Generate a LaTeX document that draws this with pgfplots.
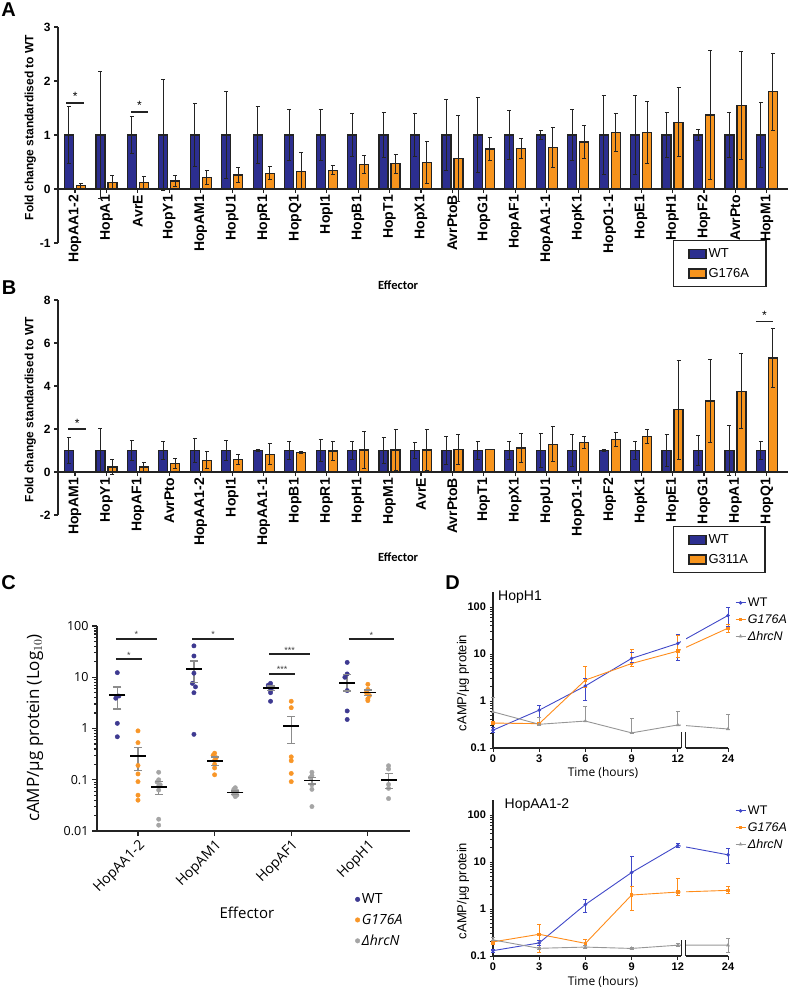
\documentclass[border=0pt]{standalone}
\usepackage{pgfplots}
\pgfplotsset{compat=1.18}
\usepackage{pgfplotstable}
\usepackage{fontspec}
\setmainfont{Liberation Sans}
\newfontfamily\carlito{Carlito}
\newfontfamily\opensans{Open Sans}
\newcommand{\fs}[1]{\fontsize{#1}{#1}\selectfont}
\definecolor{barblue}{RGB}{44,46,143}
\definecolor{barorange}{RGB}{247,148,29}
\definecolor{edge}{RGB}{35,35,35}
\definecolor{dotblue}{RGB}{62,58,145}
\definecolor{dotorange}{RGB}{248,150,40}
\definecolor{dotgray}{RGB}{165,165,165}
\definecolor{lblue}{RGB}{64,72,200}
\definecolor{lorange}{RGB}{255,140,26}
\definecolor{lgray}{RGB}{150,150,150}

\pgfplotstableread{
x wt wte g ge
0 1 0.52 0.06 0.05
1 1 1.17 0.12 0.13
2 1 0.35 0.12 0.11
3 1 1.02 0.15 0.10
4 1 0.58 0.21 0.135
5 1 0.81 0.26 0.135
6 1 0.52 0.29 0.12
7 1 0.47 0.33 0.34
8 1 0.47 0.35 0.08
9 1 0.40 0.45 0.17
10 1 0.42 0.47 0.175
11 1 0.40 0.49 0.39
12 1 0.65 0.57 0.80
13 1 0.70 0.74 0.22
14 1 0.46 0.75 0.19
15 1 0.08 0.77 0.37
16 1 0.47 0.87 0.30
17 1 0.74 1.04 0.35
18 1 0.74 1.05 0.57
19 1 0.41 1.235 0.64
20 1 0.10 1.37 1.20
21 1 0.41 1.55 1.00
22 1 0.60 1.80 0.71
}\dataA

\pgfplotstableread{
x wt wte g ge
0 1 0.60 0.03 0.01
1 1 1.03 0.23 0.34
2 1 0.46 0.23 0.23
3 1 0.42 0.38 0.23
4 1 0.54 0.55 0.40
5 1 0.46 0.60 0.23
6 1 0.05 0.82 0.49
7 1 0.42 0.92 0.05
8 1 0.52 0.98 0.44
9 1 0.42 1.02 0.87
10 1 0.60 1.02 0.97
11 1 0.35 1.02 0.97
12 1 0.63 1.05 0.69
13 1 0.41 1.05 0.02
14 1 0.40 1.12 0.66
15 1 0.78 1.29 0.82
16 1 0.74 1.36 0.27
17 1 0.05 1.52 0.32
18 1 0.44 1.66 0.34
19 1 0.75 2.90 2.30
20 1 0.70 3.30 1.92
21 1 1.17 3.75 1.74
22 1 0.44 5.30 1.37
}\dataB

\tikzset{sigstar/.style={pos=0.5, anchor=base, font=\fs{9}, text=black!75, yshift=1pt},
  dline/.style={line width=0.9pt, mark size=1.3pt}}
\pgfplotsset{
  barpanel/.style={
    scale only axis, width=730pt,
    xmin=-0.54, xmax=22.67,
    axis x line=middle, axis y line=left,
    axis line style={-, line width=1.3pt, edge},
    tick align=outside, major tick length=4pt,
    tick style={line width=1.1pt, edge},
    xtick={0,...,22},
    xticklabel style={rotate=90, anchor=east, font=\bfseries\fs{14}, inner sep=2pt},
    yticklabel style={font=\bfseries\fs{12}},
    ybar=3pt, bar width=9pt,
    error bars/y dir=both, error bars/y explicit,
    error bars/error bar style={line width=1pt, edge},
    error bars/error mark options={rotate=90, mark size=2pt, line width=1pt, edge},
    legend cell align=left,
    legend image code/.code={\draw[##1, line width=1.2pt] (0pt,-4.5pt) rectangle (17pt,4.5pt);},
    xlabel style={font=\carlito\bfseries\fs{12.5}},
    ylabel style={font=\bfseries\fs{12}},
    clip=false,
  },
  dlegend/.style={legend image code/.code={\draw[mark repeat=2,mark phase=2,##1] plot coordinates {(0pt,0pt) (5pt,0pt) (10pt,0pt)};}},
  derr/.style={forget plot, line width=0.8pt, mark=-, mark size=2pt, mark options={line width=0.8pt}},
  sig/.style={forget plot, line width=2pt, edge, mark=none},
}

\begin{document}
\begin{tikzpicture}
\useasboundingbox (0pt,0pt) rectangle (795pt,-990pt);

% ---------------- Panel A ----------------
\begin{axis}[barpanel, at={(58pt,-243pt)}, anchor=south west, height=216pt,
  ymin=-1, ymax=3, ytick={-1,0,1,2,3}, yticklabels={-1,0,1,2,3},
  xticklabels={HopAA1-2,HopA1,AvrE,HopY1,HopAM1,HopU1,HopR1,HopQ1,HopI1,HopB1,HopT1,HopX1,AvrPtoB,HopG1,HopAF1,HopAA1-1,HopK1,HopO1-1,HopE1,HopH1,HopF2,AvrPto,HopM1},
  xlabel={Effector}, xlabel style={at={(axis description cs:0.466,-0.194)}, anchor=center},
  ylabel={Fold change standardised to WT}, ylabel style={at={(axis description cs:-0.038,0.535)}, anchor=center},
  legend style={at={(0.842,0.014)}, anchor=north west, draw=edge, line width=1.5pt, font=\fs{13}, inner xsep=15pt, inner ysep=6pt, row sep=5pt},
]
\addplot[fill=barblue, draw=edge, line width=1.2pt] table[x=x, y=wt, y error=wte] {\dataA};
\addplot[fill=barorange, draw=edge, line width=1.2pt] table[x=x, y=g, y error=ge] {\dataA};
\legend{WT, G176A}
\draw[line width=1.8pt, edge] (axis cs:-0.27,1.6) -- (axis cs:0.29,1.6);
\node[font=\fs{12}, anchor=base] at (axis cs:0.01,1.63) {*};
\draw[line width=1.8pt, edge] (axis cs:1.78,1.43) -- (axis cs:2.32,1.43);
\node[font=\fs{12}, anchor=base] at (axis cs:2.05,1.47) {*};
\end{axis}

% ---------------- Panel B ----------------
\begin{axis}[barpanel, at={(58pt,-515pt)}, anchor=south west, height=215pt,
  ymin=-2, ymax=8, ytick={-2,0,2,4,6,8}, yticklabels={-2,0,2,4,6,8},
  xticklabels={HopAM1,HopY1,HopAF1,AvrPto,HopAA1-2,HopI1,HopAA1-1,HopB1,HopR1,HopH1,HopM1,AvrE,AvrPtoB,HopT1,HopX1,HopU1,HopO1-1,HopF2,HopK1,HopE1,HopG1,HopA1,HopQ1},
  xlabel={Effector}, xlabel style={at={(axis description cs:0.466,-0.195)}, anchor=center},
  ylabel={Fold change standardised to WT}, ylabel style={at={(axis description cs:-0.038,0.49)}, anchor=center},
  legend style={at={(0.842,-0.051)}, anchor=north west, draw=edge, line width=1.5pt, font=\fs{13}, inner xsep=15pt, inner ysep=6pt, row sep=5pt},
]
\addplot[fill=barblue, draw=edge, line width=1.2pt] table[x=x, y=wt, y error=wte] {\dataB};
\addplot[fill=barorange, draw=edge, line width=1.2pt] table[x=x, y=g, y error=ge] {\dataB};
\legend{WT, G311A}
\draw[line width=1.8pt, edge] (axis cs:-0.22,2.0) -- (axis cs:0.36,2.0);
\node[font=\fs{12}, anchor=base] at (axis cs:0.07,2.05) {*};
\draw[line width=1.8pt, edge] (axis cs:21.65,7.0) -- (axis cs:22.19,7.0);
\node[font=\fs{12}, anchor=base] at (axis cs:21.92,7.1) {*};
\end{axis}

% ---------------- Panel C ----------------
\begin{axis}[at={(97pt,-831pt)}, anchor=south west, scale only axis, width=313pt, height=205pt,
  xmin=-0.535, xmax=3.55, ymode=log, ymin=0.01, ymax=100,
  axis lines=left, axis line style={-, line width=1.3pt, edge},
  tick align=outside, major tick length=5pt, tick style={line width=1.2pt, edge},
  minor ytick={},
  unbounded coords=jump,
  xtick={0,1,2,3}, xticklabels={HopAA1-2,HopAM1,HopAF1,HopH1},
  xticklabel style={rotate=45, anchor=north east, font=\opensans\fs{14}, inner sep=2pt},
  ytick={0.01,0.1,1,10,100}, yticklabels={0.01,0.1,1,10,100},
  yticklabel style={font=\opensans\fs{12.5}},
  xlabel={Effector}, xlabel style={font=\opensans\fs{15}, at={(axis description cs:0.479,-0.40)}, anchor=center},
  ylabel={cAMP/µg protein (Log$_{10}$)}, ylabel style={font=\opensans\fs{17}, at={(axis description cs:-0.198,0.502)}, anchor=center},
  legend style={draw=none, fill=none, at={(0.815,-0.285)}, anchor=north west, font=\opensans\fs{14}, row sep=5pt},
  legend cell align=left,
  clip=false,
]
\addlegendimage{only marks, mark=*, mark size=2.3pt, dotblue}
\addlegendentry{WT}
\addlegendimage{only marks, mark=*, mark size=2.3pt, dotorange}
\addlegendentry{\itshape G176A}
\addlegendimage{only marks, mark=*, mark size=2.3pt, dotgray}
\addlegendentry{\itshape ΔhrcN}
% WT
\addplot[only marks, forget plot, mark=*, mark size=2.2pt, dotblue] coordinates {
(-0.27,12.3) (-0.25,4.3) (-0.29,3.9) (-0.27,1.26) (-0.27,0.69)
(0.73,41) (0.73,26) (0.73,12) (0.71,7.6) (0.75,6.5) (0.73,5.0) (0.73,0.77)
(1.73,7.6) (1.70,7.0) (1.76,6.4) (1.73,5.6) (1.73,5.0) (1.73,3.4)
(2.73,19.5) (2.73,11.6) (2.70,10) (2.73,5.5) (2.73,2.2) (2.73,1.5)
};
% G176A
\addplot[only marks, forget plot, mark=*, mark size=2.2pt, dotorange] coordinates {
(0,0.9) (0,0.53) (0,0.19) (0,0.13) (0,0.092) (0,0.05) (0,0.04)
(1,0.33) (0.98,0.3) (1.02,0.27) (1,0.24) (1,0.2) (1,0.17) (1,0.125)
(2,3.4) (2,2.55) (2,0.28) (2,0.235) (2,0.133) (2,0.092)
(3,7.3) (3,5.8) (2.98,5.0) (3.02,4.4) (3,3.8) (3,3.5)
};
% hrcN
\addplot[only marks, forget plot, mark=*, mark size=2.2pt, dotgray] coordinates {
(0.27,0.14) (0.27,0.1) (0.25,0.09) (0.29,0.08) (0.27,0.075) (0.27,0.063) (0.27,0.017) (0.27,0.013)
(1.27,0.07) (1.25,0.065) (1.29,0.06) (1.27,0.057) (1.25,0.052) (1.29,0.05) (1.27,0.047)
(2.27,0.14) (2.27,0.12) (2.25,0.11) (2.27,0.08) (2.27,0.065) (2.27,0.03)
(3.27,0.188) (3.27,0.162) (3.27,0.081) (3.27,0.068) (3.27,0.043)
};
% SEM bars (lower, upper)
\addplot[forget plot, black!45, line width=1.4pt, mark=-, mark size=4pt, mark options={line width=1.4pt}] coordinates {
(-0.27,2.4) (-0.27,6.5) (-0.27,nan)
(0,0.15) (0,0.43) (0,nan)
(0.27,0.052) (0.27,0.092) (0.27,nan)
(0.73,7.9) (0.73,20.8) (0.73,nan)
(1,0.19) (1,0.28) (1,nan)
(1.27,0.052) (1.27,0.06) (1.27,nan)
(1.73,5.5) (1.73,6.7) (1.73,nan)
(2,0.51) (2,1.7) (2,nan)
(2.27,0.082) (2.27,0.112) (2.27,nan)
(2.73,5.4) (2.73,11.3) (2.73,nan)
(3,4.4) (3,5.6) (3,nan)
(3.27,0.068) (3.27,0.133)
};
% means
\addplot[only marks, forget plot, mark=-, mark size=8pt, mark options={line width=1.6pt, black}] coordinates {
(-0.27,4.5) (0,0.29) (0.27,0.072)
(0.73,14.3) (1,0.235) (1.27,0.056)
(1.73,6.1) (2,1.12) (2.27,0.097)
(2.73,7.8) (3,5.0) (3.27,0.1)
};
% significance
\addplot[sig] coordinates {(-0.29,57) (0.25,57)} node[sigstar] {*};
\addplot[sig] coordinates {(-0.29,22.4) (0.05,22.4)} node[sigstar] {*};
\addplot[sig] coordinates {(0.71,57) (1.25,57)} node[sigstar] {*};
\addplot[sig] coordinates {(1.71,28.4) (2.25,28.4)} node[sigstar] {***};
\addplot[sig] coordinates {(1.71,11.6) (2.05,11.6)} node[sigstar] {***};
\addplot[sig] coordinates {(2.75,55) (3.34,55)} node[sigstar] {*};
\end{axis}

% ---------------- Panel D top ----------------
\begin{axis}[at={(493pt,-748pt)}, anchor=south west,
  scale only axis, width=235pt, height=156pt,
  xmin=0, xmax=15.26, ymode=log, ymin=0.1, ymax=210,
  axis lines=left, axis line style={-, line width=1.2pt, edge},
  xtick={0,3,6,9,12,15.26}, xticklabels={0,3,6,9,12,24},
  ytick={0.1,1,10,100}, yticklabels={0.1,1,10,100},
  minor ytick={},
  tick align=outside, major tick length=3.5pt, tick style={line width=1pt, edge},
  ticklabel style={font=\bfseries\fs{11}},
  clip=false, unbounded coords=jump,
  dlegend,
  legend style={draw=none, fill=none, at={(1.025,0.99)}, anchor=north west, font=\fs{12.5}, row sep=2.5pt, inner xsep=1pt},
  legend cell align=left,
  xlabel={Time (hours)}, xlabel style={font=\opensans\fs{12}, at={(axis description cs:0.468,-0.16)}, anchor=center},
  ylabel={cAMP/µg protein}, ylabel style={font=\fs{13}, at={(axis description cs:-0.128,0.417)}, anchor=center},
]
\addplot[lblue, mark=*, dline] coordinates {(0,0.24) (3,0.64) (6,2.1) (9,8.1) (12,16.9) (15.26,66.5)};
\addplot[lorange, mark=square*, dline] coordinates {(0,0.34) (3,0.33) (6,2.8) (9,6.3) (12,11.6) (15.26,35.7)};
\addplot[lgray, mark=triangle*, dline] coordinates {(0,0.59) (3,0.32) (6,0.375) (9,0.21) (12,0.31) (15.26,0.254)};
\legend{WT, \textit{G176A}, \textit{ΔhrcN}}
\addplot[lblue, derr] coordinates {(0,0.22) (0,0.27) (0,nan) (3,0.45) (3,0.8) (3,nan) (6,1.05) (6,3.0) (6,nan) (9,6.5) (9,11.1) (9,nan) (12,7.4) (12,26.7) (12,nan) (15.26,39.5) (15.26,97.5)};
\addplot[lorange, derr] coordinates {(0,0.32) (0,0.36) (0,nan) (3,0.31) (3,0.35) (3,nan) (6,2.0) (6,5.6) (6,nan) (9,5.5) (9,12.3) (9,nan) (12,8.6) (12,25.4) (12,nan) (15.26,28.7) (15.26,42.7)};
\addplot[lgray, derr] coordinates {(0,0.58) (0,1.19) (0,nan) (3,0.31) (3,0.44) (3,nan) (6,0.365) (6,0.755) (6,nan) (9,0.2) (9,0.43) (9,nan) (12,0.3) (12,0.6) (12,nan) (15.26,0.245) (15.26,0.524)};
\fill[white] ({axis cs:12.22,1}|-{rel axis cs:0,-0.012}) rectangle ({axis cs:12.5,1}|-{rel axis cs:0,1});
\draw[line width=1pt, edge] ({axis cs:12.22,1}|-{rel axis cs:0,0}) -- ++(0,-4pt);
\draw[line width=1pt, edge] ({axis cs:12.5,1}|-{rel axis cs:0,0}) -- ++(0,-4pt);
\node[font=\fs{14}, anchor=center] at (axis description cs:0.115,0.968) {HopH1};
\end{axis}

% ---------------- Panel D bottom ----------------
\begin{axis}[at={(493pt,-956pt)}, anchor=south west,
  scale only axis, width=235pt, height=156pt,
  xmin=0, xmax=15.26, ymode=log, ymin=0.1, ymax=210,
  axis lines=left, axis line style={-, line width=1.2pt, edge},
  xtick={0,3,6,9,12,15.26}, xticklabels={0,3,6,9,12,24},
  ytick={0.1,1,10,100}, yticklabels={0.1,1,10,100},
  minor ytick={},
  tick align=outside, major tick length=3.5pt, tick style={line width=1pt, edge},
  ticklabel style={font=\bfseries\fs{11}},
  clip=false, unbounded coords=jump,
  dlegend,
  legend style={draw=none, fill=none, at={(1.025,0.99)}, anchor=north west, font=\fs{12.5}, row sep=2.5pt, inner xsep=1pt},
  legend cell align=left,
  xlabel={Time (hours)}, xlabel style={font=\opensans\fs{12}, at={(axis description cs:0.468,-0.167)}, anchor=center},
  ylabel={cAMP/µg protein}, ylabel style={font=\fs{13}, at={(axis description cs:-0.128,0.417)}, anchor=center},
]
\addplot[lblue, mark=*, dline] coordinates {(0,0.13) (3,0.19) (6,1.25) (9,6.0) (12,22.6) (15.26,14.3)};
\addplot[lorange, mark=square*, dline] coordinates {(0,0.2) (3,0.29) (6,0.186) (9,1.99) (12,2.3) (15.26,2.5)};
\addplot[lgray, mark=triangle*, dline] coordinates {(0,0.22) (3,0.146) (6,0.155) (9,0.145) (12,0.17) (15.26,0.17)};
\legend{WT, \textit{G176A}, \textit{ΔhrcN}}
\addplot[lblue, derr] coordinates {(0,0.12) (0,0.14) (0,nan) (3,0.17) (3,0.21) (3,nan) (6,0.85) (6,1.6) (6,nan) (9,3.0) (9,13.5) (9,nan) (12,20.1) (12,25.1) (12,nan) (15.26,9.4) (15.26,19.5)};
\addplot[lorange, derr] coordinates {(0,0.18) (0,0.22) (0,nan) (3,0.12) (3,0.48) (3,nan) (6,0.146) (6,0.226) (6,nan) (9,0.92) (9,2.99) (9,nan) (12,2.0) (12,4.6) (12,nan) (15.26,2.15) (15.26,3.0)};
\addplot[lgray, derr] coordinates {(0,0.21) (0,0.25) (0,nan) (3,0.136) (3,0.156) (3,nan) (6,0.145) (6,0.165) (6,nan) (9,0.14) (9,0.15) (9,nan) (12,0.16) (12,0.185) (12,nan) (15.26,0.12) (15.26,0.24)};
\fill[white] ({axis cs:12.22,1}|-{rel axis cs:0,-0.012}) rectangle ({axis cs:12.5,1}|-{rel axis cs:0,1});
\draw[line width=1pt, edge] ({axis cs:12.22,1}|-{rel axis cs:0,0}) -- ++(0,-4pt);
\draw[line width=1pt, edge] ({axis cs:12.5,1}|-{rel axis cs:0,0}) -- ++(0,-4pt);
\node[font=\fs{14}, anchor=center] at (axis description cs:0.187,0.968) {HopAA1-2};
\end{axis}

% panel letters
\node[font=\bfseries\fs{20}] at (8.5pt,-10pt) {A};
\node[font=\bfseries\fs{20}] at (9pt,-287.5pt) {B};
\node[font=\bfseries\fs{20}] at (8.5pt,-582.5pt) {C};
\node[font=\bfseries\fs{20}] at (452.5pt,-582.5pt) {D};
\end{tikzpicture}
\end{document}
